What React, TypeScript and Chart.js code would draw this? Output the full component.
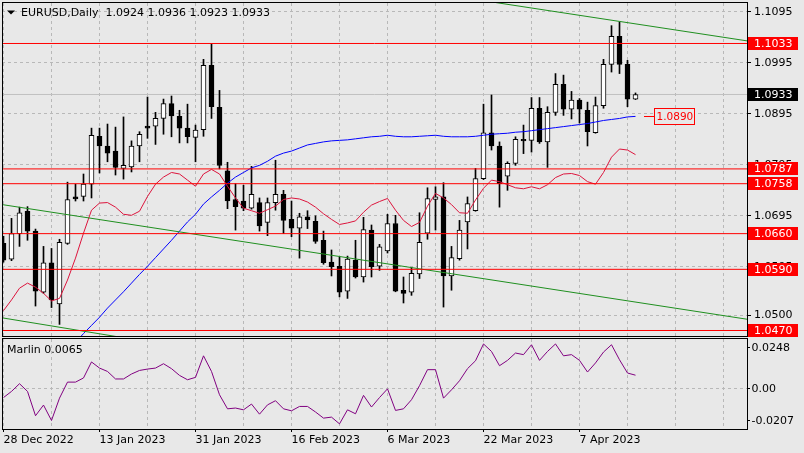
import { useEffect, useRef } from "react"
import { Chart, registerables } from "chart.js"

Chart.register(...registerables)

const SYMBOL = "EURUSD"
const PERIOD = "Daily"
const OSC_NAME = "Marlin"

// daily bars, bar index 0 = 28 Dec 2022
const OPEN = [
  1.0641, 1.061, 1.066, 1.0704, 1.0665, 1.0545, 1.0603, 1.0522, 1.0641, 1.0732,
  1.0733, 1.0757, 1.0851, 1.0832, 1.0822, 1.0788, 1.0791, 1.0832, 1.0871, 1.0871,
  1.0886, 1.0915, 1.089, 1.0867, 1.0849, 1.0864, 1.099, 1.0908, 1.0783, 1.0727,
  1.0724, 1.071, 1.0721, 1.0682, 1.0721, 1.0737, 1.0688, 1.0671, 1.0693, 1.0684,
  1.0647, 1.0604, 1.0596, 1.0547, 1.0608, 1.0575, 1.0667, 1.0596, 1.0626, 1.068,
  1.0549, 1.0545, 1.0581, 1.0661, 1.0727, 1.0732, 1.0577, 1.0611, 1.0683, 1.0705,
  1.0768, 1.0858, 1.0832, 1.0773, 1.0798, 1.0845, 1.0843, 1.0906, 1.084, 1.0898,
  1.0953, 1.0904, 1.0922, 1.0902, 1.0858, 1.0911, 1.0992, 1.1047, 1.0992, 1.0924,
]
const HIGH = [
  1.0655, 1.069, 1.0712, 1.0713, 1.0669, 1.0635, 1.0631, 1.0649, 1.0761, 1.0757,
  1.0777, 1.0867, 1.0867, 1.0875, 1.0869, 1.0889, 1.0842, 1.086, 1.0928, 1.0898,
  1.0924, 1.093, 1.0902, 1.0914, 1.0873, 1.1002, 1.1033, 1.0941, 1.08, 1.0758,
  1.0755, 1.0792, 1.073, 1.073, 1.0804, 1.0745, 1.0724, 1.07, 1.0705, 1.0695,
  1.0665, 1.0628, 1.0614, 1.0616, 1.0647, 1.0692, 1.0677, 1.0639, 1.0698, 1.0696,
  1.0575, 1.0594, 1.0701, 1.075, 1.0752, 1.076, 1.0635, 1.0686, 1.0732, 1.0788,
  1.0914, 1.0932, 1.084, 1.0801, 1.085, 1.0873, 1.0927, 1.0927, 1.0909, 1.0974,
  1.0971, 1.0939, 1.0925, 1.0918, 1.0928, 1.1002, 1.1068, 1.1075, 1.1, 1.0936,
]
const LOW = [
  1.0604, 1.0607, 1.0635, 1.0647, 1.0518, 1.0543, 1.0515, 1.0482, 1.0639, 1.0724,
  1.0724, 1.073, 1.0779, 1.0801, 1.0775, 1.0767, 1.0781, 1.0801, 1.0847, 1.0835,
  1.0855, 1.085, 1.0838, 1.0838, 1.0801, 1.0851, 1.0886, 1.0787, 1.0709, 1.0667,
  1.0705, 1.0708, 1.0665, 1.0656, 1.0706, 1.066, 1.0654, 1.0612, 1.067, 1.0641,
  1.06, 1.0577, 1.0536, 1.0533, 1.0573, 1.0565, 1.0575, 1.0588, 1.0622, 1.0546,
  1.0524, 1.0539, 1.0572, 1.0649, 1.0667, 1.0516, 1.0549, 1.0608, 1.063, 1.0704,
  1.0766, 1.0824, 1.0712, 1.0745, 1.0794, 1.0817, 1.082, 1.0837, 1.079, 1.0892,
  1.0892, 1.0885, 1.0877, 1.0832, 1.0857, 1.0906, 1.0977, 1.0974, 1.0909, 1.0923,
]
const CLOSE = [
  1.0608, 1.066, 1.0701, 1.0665, 1.0547, 1.0603, 1.053, 1.0643, 1.0727, 1.0728,
  1.0757, 1.0853, 1.0832, 1.0818, 1.079, 1.0794, 1.0832, 1.0855, 1.0867, 1.0886,
  1.0915, 1.0891, 1.0867, 1.085, 1.0863, 1.099, 1.0909, 1.0794, 1.0724, 1.0713,
  1.071, 1.0737, 1.0675, 1.0721, 1.0737, 1.0686, 1.0671, 1.0693, 1.0687, 1.0645,
  1.0603, 1.0595, 1.0545, 1.061, 1.0575, 1.0668, 1.0595, 1.0634, 1.068, 1.0547,
  1.0543, 1.0582, 1.0643, 1.0729, 1.0732, 1.0577, 1.0613, 1.0667, 1.0719, 1.0768,
  1.0858, 1.0832, 1.0758, 1.0798, 1.0845, 1.0842, 1.0906, 1.084, 1.0898, 1.0953,
  1.0904, 1.0922, 1.0904, 1.086, 1.0911, 1.0992, 1.1047, 1.0992, 1.0924, 1.0933,
]

// crimson moving average, one value per bar
const MA_FAST = [
  1.0509, 1.053, 1.0553, 1.0563, 1.0555, 1.0543, 1.0528, 1.0533, 1.0569, 1.0612,
  1.0661, 1.0706, 1.072, 1.0721, 1.0712, 1.0698, 1.0696, 1.0704, 1.0733, 1.0757,
  1.0771, 1.078, 1.0777, 1.0765, 1.0753, 1.0777, 1.0786, 1.0777, 1.0753, 1.073,
  1.071, 1.0705, 1.07, 1.0707, 1.0714, 1.0727, 1.073, 1.0728, 1.0722, 1.0712,
  1.0699, 1.0688, 1.0678, 1.0681, 1.0685, 1.0702, 1.0716, 1.0723, 1.0729, 1.0706,
  1.0686, 1.0674, 1.0682, 1.0714, 1.0739, 1.073, 1.0717, 1.0701, 1.07, 1.0726,
  1.0749, 1.0765, 1.0762, 1.0756, 1.075, 1.0748, 1.0752, 1.0748, 1.0756, 1.077,
  1.0777, 1.0778, 1.0774, 1.0762, 1.0757, 1.078, 1.081, 1.0826, 1.0824, 1.0815,
]

// blue moving average, visible from bar 9 on
const MA_SLOW_START = 9
const MA_SLOW = [
  1.0447, 1.0464, 1.048, 1.0496, 1.0514, 1.053, 1.0546, 1.0563, 1.058, 1.0596,
  1.0613, 1.063, 1.0647, 1.0665, 1.0683, 1.0698, 1.0718, 1.0732, 1.0745, 1.0759,
  1.0771, 1.078, 1.0789, 1.0794, 1.0802, 1.0812, 1.0818, 1.0822, 1.0828, 1.0834,
  1.0837, 1.084, 1.0842, 1.0843, 1.0844, 1.0846, 1.0848, 1.085, 1.0851, 1.0853,
  1.0851, 1.085, 1.085, 1.0851, 1.0852, 1.0853, 1.0851, 1.085, 1.085, 1.085,
  1.0851, 1.0853, 1.0855, 1.0856, 1.0857, 1.0859, 1.086, 1.0862, 1.0864, 1.0866,
  1.0868, 1.087, 1.0872, 1.0874, 1.0876, 1.0879, 1.0882, 1.0884, 1.0886, 1.0889,
  1.089,
]

const MARLIN = [
  -0.0048, -0.0017, 0.0022, -0.0017, -0.014, -0.0086, -0.0164, -0.0051, 0.003, 0.003,
  0.0051, 0.0132, 0.0101, 0.0084, 0.0046, 0.0046, 0.0071, 0.0089, 0.0096, 0.0101,
  0.0123, 0.0098, 0.0064, 0.0042, 0.0054, 0.0163, 0.0084, -0.0034, -0.0105, -0.0101,
  -0.011, -0.0081, -0.0132, -0.0085, -0.0064, -0.0105, -0.0115, -0.0093, -0.0093, -0.0121,
  -0.0152, -0.0147, -0.0181, -0.011, -0.013, -0.0037, -0.0096, -0.0048, -0.0004, -0.0113,
  -0.0105, -0.0059, 0.0012, 0.0093, 0.0093, -0.0051, -0.0009, 0.0037, 0.0098, 0.0138,
  0.0223, 0.0185, 0.0113, 0.014, 0.0177, 0.0169, 0.0219, 0.014, 0.0185, 0.0223,
  0.0163, 0.0169, 0.014, 0.0081, 0.0127, 0.0182, 0.0219, 0.0143, 0.0076, 0.0065,
]

// horizontal levels and trend lines (bar index, price)
const LEVELS = [1.1033, 1.0787, 1.0758, 1.066, 1.059, 1.047]
const TREND_UPPER = [[60, 1.1117], [93, 1.1038]]
const TREND_MIDDLE = [[-1, 1.0719], [93, 1.0492]]
const TREND_LOWER = [[-1, 1.0497], [20, 1.0443]]

const PRICE_TICKS = [1.1095, 1.0995, 1.0895, 1.0795, 1.0695, 1.0595, 1.05]
const OSC_TICKS = [0.0248, 0, -0.0207]
const DATE_LABELS = ["28 Dec 2022", "13 Jan 2023", "31 Jan 2023", "16 Feb 2023", "6 Mar 2023", "22 Mar 2023", "7 Apr 2023"]
const DATE_BARS = [0, 12, 24, 36, 48, 60, 72]
const GRID_STEP = 6

// visible window
const VIEW_FROM = -0.1875
const VIEW_TO = 92.9375
const PRICE_MIN = 1.045924
const PRICE_MAX = 1.111244

const BG = "#e8e8e8"
const GRID = "#b8b8b8"
const FONT = { family: "DejaVu Sans", size: 11 }
const CSS_FONT = "11px 'DejaVu Sans'"

const fmt = (v: number) => (v === 0 ? "0.00" : v.toFixed(4))

const gridTicks = () => {
  const out: { value: number }[] = []
  for (let v = 0; v <= VIEW_TO; v += GRID_STEP) out.push({ value: v })
  return out
}

const mainOverlay = {
  id: "mainOverlay",
  afterDraw(chart: any) {
    const { ctx, chartArea: a } = chart
    const x = chart.scales.x
    const y = chart.scales.y
    ctx.save()
    ctx.strokeStyle = "#000"
    ctx.lineWidth = 1
    ctx.strokeRect(a.left + 0.5, a.top - 0.5, a.right - a.left, a.bottom - a.top + 1)

    ctx.font = CSS_FONT
    ctx.textBaseline = "middle"
    ctx.textAlign = "left"

    const tag = (v: number, bg: string) => {
      const row = Math.floor(y.getPixelForValue(v))
      ctx.fillStyle = bg
      ctx.fillRect(a.right + 1, row - 6, 50, 13)
      ctx.fillStyle = "#fff"
      ctx.fillText(fmt(v), a.right + 7, row + 1)
    }
    LEVELS.forEach((v) => tag(v, "#ff0000"))
    const last = CLOSE.length - 1
    tag(CLOSE[last], "#000")

    // callout for the blue average
    const ma = MA_SLOW[MA_SLOW.length - 1]
    const lx = x.getPixelForValue(last)
    const my = Math.floor(y.getPixelForValue(ma)) + 0.5
    ctx.strokeStyle = "#ff0000"
    ctx.beginPath()
    ctx.moveTo(lx + 8.5, my)
    ctx.lineTo(lx + 19, my)
    ctx.stroke()
    ctx.fillStyle = BG
    ctx.fillRect(lx + 19, my - 8, 40, 16)
    ctx.strokeRect(lx + 19, my - 8, 40, 16)
    ctx.fillStyle = "#ff0000"
    ctx.font = "10.5px 'DejaVu Sans'"
    ctx.fillText(fmt(ma), lx + 21, my + 0.5)

    // header
    ctx.font = CSS_FONT
    ctx.fillStyle = "#000"
    ctx.beginPath()
    ctx.moveTo(7, 10.5)
    ctx.lineTo(15, 10.5)
    ctx.lineTo(11, 14.5)
    ctx.closePath()
    ctx.fill()
    const ohlc = [OPEN[last], HIGH[last], LOW[last], CLOSE[last]].map(fmt).join(" ")
    ctx.fillText(`${SYMBOL},${PERIOD}  ${ohlc}`, 21, 13)
    ctx.restore()
  },
}

const subOverlay = {
  id: "subOverlay",
  afterDraw(chart: any) {
    const { ctx, chartArea: a } = chart
    const y = chart.scales.y
    ctx.save()
    ctx.strokeStyle = "#000"
    ctx.lineWidth = 1
    ctx.strokeRect(a.left + 0.5, a.top - 0.5, a.right - a.left, a.bottom - a.top + 1)
    ctx.font = CSS_FONT
    ctx.textBaseline = "middle"
    ctx.textAlign = "left"
    ctx.fillStyle = "#000"
    OSC_TICKS.forEach((v) => {
      let py = Math.floor(y.getPixelForValue(v)) + 0.5
      if (v === OSC_TICKS[0]) py = a.top + 8.5
      if (v === OSC_TICKS[OSC_TICKS.length - 1]) py = a.bottom - 8.5
      ctx.beginPath()
      ctx.moveTo(a.right, py)
      ctx.lineTo(a.right + 3, py)
      ctx.stroke()
      ctx.fillText(fmt(v), a.right + 4.5, py + 0.5)
    })
    ctx.fillText(`${OSC_NAME} ${fmt(MARLIN[MARLIN.length - 1])}`, a.left + 5, a.top + 11.5)
    ctx.restore()
  },
}

const xScale = (withLabels: boolean) => ({
  type: "linear",
  min: VIEW_FROM,
  max: VIEW_TO,
  offset: false,
  bounds: "data",
  afterBuildTicks: (s: any) => {
    s.ticks = gridTicks()
  },
  afterFit: (s: any) => {
    s.height = withLabels ? 24 : 0
    s.paddingLeft = 0
    s.paddingRight = 0
  },
  border: { display: false, dash: [3, 3] },
  grid: {
    color: GRID,
    lineWidth: 1,
    offset: false,
    drawTicks: withLabels,
    tickLength: 3,
    tickBorderDash: [],
    tickColor: (c: any) => (c.tick && DATE_BARS.includes(c.tick.value) ? "#000" : "rgba(0,0,0,0)"),
  },
  ticks: {
    display: withLabels,
    autoSkip: false,
    maxRotation: 0,
    minRotation: 0,
    align: "start",
    padding: 2,
    color: "#000",
    font: FONT,
    callback: (v: number) => {
      const k = DATE_BARS.indexOf(v)
      return k >= 0 ? DATE_LABELS[k] : ""
    },
  },
})

export default function App() {
  const mainRef = useRef<HTMLCanvasElement | null>(null)
  const subRef = useRef<HTMLCanvasElement | null>(null)

  useEffect(() => {
    document.body.style.margin = "0"
    document.body.style.background = BG
    if (!mainRef.current || !subRef.current) return

    const bodyColors = OPEN.map((o, i) => (CLOSE[i] >= o ? "#ffffff" : "#000000"))

    const main = new Chart(mainRef.current, {
      type: "line",
      data: {
        datasets: [
          ...LEVELS.map((v) => ({
            type: "line",
            data: [{ x: VIEW_FROM, y: v }, { x: VIEW_TO, y: v }],
            borderColor: "#ff0000",
            borderWidth: 1,
            pointRadius: 0,
            order: 1,
          })),
          ...[TREND_UPPER, TREND_MIDDLE, TREND_LOWER].map((t) => ({
            type: "line",
            data: t.map(([x, y]) => ({ x, y })),
            borderColor: "#1f8f1f",
            borderWidth: 1,
            pointRadius: 0,
            order: 1,
          })),
          {
            type: "line",
            data: MA_SLOW.map((v, i) => ({ x: i + MA_SLOW_START, y: v })),
            borderColor: "#0000ff",
            borderWidth: 1,
            pointRadius: 0,
            order: 2,
          },
          {
            type: "line",
            data: MA_FAST.map((v, i) => ({ x: i, y: v })),
            borderColor: "#dc143c",
            borderWidth: 1,
            pointRadius: 0,
            order: 2,
          },
          {
            type: "bar",
            data: OPEN.map((o, i) => ({ x: i, y: [o, CLOSE[i]] })),
            backgroundColor: bodyColors,
            borderColor: "#000",
            borderWidth: 1,
            borderSkipped: false,
            barThickness: 5,
            minBarLength: 1,
            grouped: false,
            order: 3,
          },
          {
            type: "bar",
            data: HIGH.map((h, i) => ({ x: i, y: [LOW[i], h] })),
            backgroundColor: "#000",
            borderWidth: 0,
            barThickness: 1,
            grouped: false,
            order: 4,
          },
          {
            type: "line",
            data: [{ x: VIEW_FROM, y: CLOSE[CLOSE.length - 1] }, { x: VIEW_TO, y: CLOSE[CLOSE.length - 1] }],
            borderColor: "#c0c0c0",
            borderWidth: 1,
            pointRadius: 0,
            order: 5,
          },
        ],
      } as any,
      options: {
        animation: false,
        responsive: false,
        events: [],
        layout: { padding: { left: 2, top: 3, right: 0, bottom: 1 } },
        plugins: { legend: { display: false }, tooltip: { enabled: false } },
        scales: {
          x: xScale(false) as any,
          y: {
            type: "linear",
            position: "right",
            min: PRICE_MIN,
            max: PRICE_MAX,
            afterBuildTicks: (s: any) => {
              s.ticks = PRICE_TICKS.map((value) => ({ value }))
            },
            afterFit: (s: any) => {
              s.width = 57
              s.paddingTop = 0
              s.paddingBottom = 0
            },
            border: { display: false, dash: [3, 3] },
            grid: { color: GRID, lineWidth: 1, tickLength: 4, tickColor: "#000", tickBorderDash: [] },
            ticks: {
              autoSkip: false,
              padding: 3,
              color: "#000",
              font: FONT,
              callback: (v: any) => fmt(Number(v)),
            },
          },
        },
      },
      plugins: [mainOverlay],
    })

    const sub = new Chart(subRef.current, {
      type: "line",
      data: {
        datasets: [
          {
            data: MARLIN.map((v, i) => ({ x: i, y: v })),
            borderColor: "#800080",
            borderWidth: 1,
            pointRadius: 0,
          },
        ],
      },
      options: {
        animation: false,
        responsive: false,
        events: [],
        layout: { padding: { left: 2, top: 1, right: 0, bottom: 0 } },
        plugins: { legend: { display: false }, tooltip: { enabled: false } },
        scales: {
          x: xScale(true) as any,
          y: {
            type: "linear",
            position: "right",
            min: OSC_TICKS[OSC_TICKS.length - 1],
            max: OSC_TICKS[0],
            afterBuildTicks: (s: any) => {
              s.ticks = [{ value: 0 }]
            },
            afterFit: (s: any) => {
              s.width = 57
              s.paddingTop = 0
              s.paddingBottom = 0
            },
            border: { display: false, dash: [3, 3] },
            grid: { color: GRID, lineWidth: 1, drawTicks: false },
            ticks: { display: false },
          },
        },
      } as any,
      plugins: [subOverlay],
    })

    return () => {
      main.destroy()
      sub.destroy()
    }
  }, [])

  return (
    <div style={{ position: "relative", width: 804, height: 453, background: BG, overflow: "hidden" }}>
      <canvas ref={mainRef} width={804} height={337} style={{ position: "absolute", left: 0, top: 0 }} />
      <canvas ref={subRef} width={804} height={115} style={{ position: "absolute", left: 0, top: 338 }} />
    </div>
  )
}
